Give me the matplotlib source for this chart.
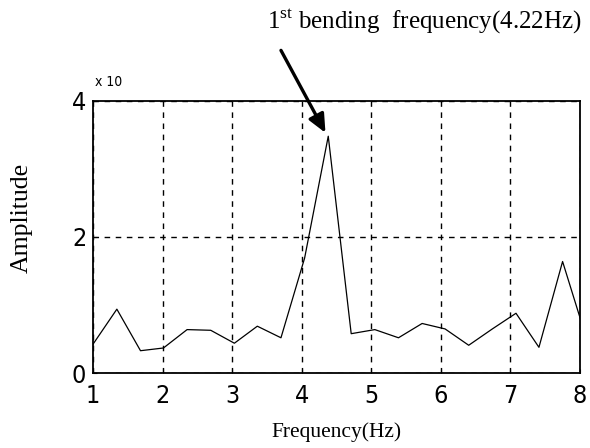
import matplotlib
matplotlib.use("Agg")
import matplotlib.pyplot as plt

# === Data ===
freq = [1.00, 1.34, 1.68, 2.01, 2.35, 2.69, 3.03, 3.36, 3.70, 4.04, 4.38,
        4.71, 5.05, 5.39, 5.73, 6.06, 6.40, 6.74, 7.08, 7.41, 7.75, 8.09]
amplitude = [0.43, 0.94, 0.33, 0.37, 0.64, 0.63, 0.44, 0.69, 0.52, 1.69, 3.48,
             0.58, 0.64, 0.52, 0.73, 0.65, 0.41, 0.65, 0.88, 0.38, 1.64, 0.52]
x_ticks = [1, 2, 3, 4, 5, 6, 7, 8]
y_ticks = [0, 2, 4]
peak_freq = 4.38
peak_amp = 3.48

plt.rcParams["mathtext.fontset"] = "custom"
plt.rcParams["mathtext.rm"] = "Liberation Serif"

fig = plt.figure(figsize=(5.9, 4.48), dpi=100)
ax = fig.add_axes([0.158, 0.167, 0.825, 0.608])

ax.plot(freq, amplitude, color="black", lw=0.9)
ax.set_xlim(1, 8)
ax.set_ylim(0, 4)
ax.set_xticks(x_ticks)
ax.set_yticks(y_ticks)
ax.set_xticklabels([str(t) for t in x_ticks], fontfamily="DejaVu Sans",
                   fontstretch="condensed", fontsize=18)
ax.set_yticklabels([str(t) for t in y_ticks], fontfamily="DejaVu Sans",
                   fontstretch="condensed", fontsize=18)
ax.tick_params(direction="in", length=3, width=0.8)
ax.tick_params(axis="x", pad=8)
ax.tick_params(axis="y", pad=5)

# grid dashed as in the original
ax.grid(True, color="black", linestyle=(0, (4, 4)), lw=1.0)
for s in ax.spines.values():
    s.set_linewidth(1.3)
    s.set_color("black")

ax.text(0.003, 1.045, "x 10", transform=ax.transAxes, fontfamily="DejaVu Sans",
        fontstretch="condensed", fontsize=10, ha="left", va="bottom")

ax.set_xlabel("Frequency(Hz)", fontfamily="Liberation Serif", fontsize=15.5, labelpad=10)
ax.set_ylabel("Amplitude", fontfamily="Liberation Serif", fontsize=18.5, labelpad=20)
ax.yaxis.set_label_coords(-0.125, 0.57)

# === annotation with arrow ===
ax.annotate("", xy=(peak_freq - 0.04, peak_amp + 0.05), xycoords="data",
            xytext=(0.474, 0.893), textcoords="figure fraction",
            arrowprops=dict(arrowstyle="-|>,head_length=1.1,head_width=0.5",
                            color="black", lw=2.4, shrinkB=0))
fig.text(0.452, 0.953, r"1$^{\rm st}$ bending  frequency(4.22Hz)",
         fontfamily="Liberation Serif", fontsize=18, ha="left", va="center")

plt.savefig("out.png", dpi=100)
